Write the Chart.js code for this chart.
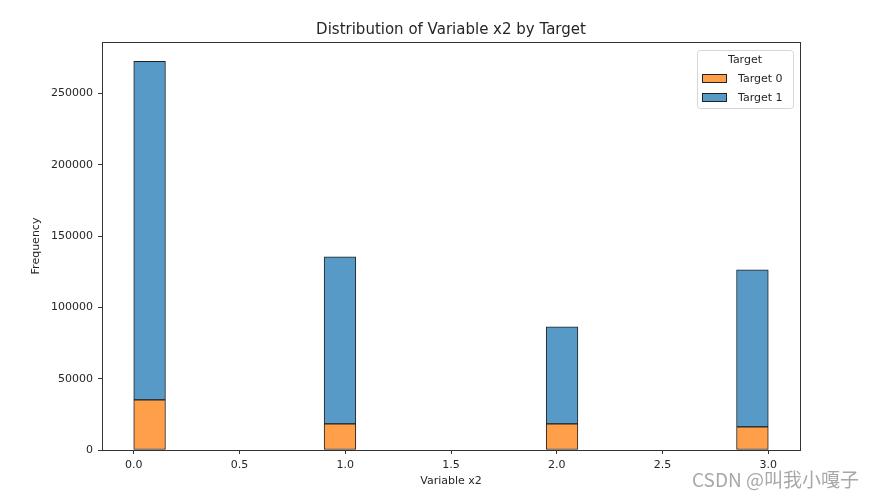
<!DOCTYPE html>
<html>
<head>
<meta charset="utf-8">
<script src="https://cdn.jsdelivr.net/npm/chart.js@4/dist/chart.umd.min.js"></script>
<style>
  html, body { margin: 0; padding: 0; background: #fff; }
  #wrap { position: relative; width: 877px; height: 497px; }
  #mark {
    position: absolute; left: 692px; top: 466px;
    font-family: "Noto Sans CJK SC", "DejaVu Sans", sans-serif;
    font-size: 19px; line-height: 26px; color: #a8a8a8; white-space: nowrap;
  }
</style>
</head>
<body>
<div id="wrap">
  <canvas id="chart" width="877" height="497"></canvas>
  <div id="mark">CSDN @叫我小嘎子</div>
</div>
<script>
// histogram bins (width 0.15), centers of the 20 bins from 0 to 3
const binCenters = [0.075, 0.225, 0.375, 0.525, 0.675, 0.825, 0.975, 1.125, 1.275, 1.425,
                    1.575, 1.725, 1.875, 2.025, 2.175, 2.325, 2.475, 2.625, 2.775, 2.925];
// counts per bin, empty bins are null
const target0Counts = [35100, null, null, null, null, null, 18300, null, null, null,
                       null, null, null, 18300, null, null, null, null, null, 16200];
const target1Counts = [237400, null, null, null, null, null, 117200, null, null, null,
                       null, null, null, 68100, null, null, null, null, null, 110200];
const seriesNames = ["Target 0", "Target 1"];
const xTickValues = [0, 0.5, 1.0, 1.5, 2.0, 2.5, 3.0];
const yTickValues = [0, 50000, 100000, 150000, 200000, 250000];
const chartTitle = "Distribution of Variable x2 by Target";

const orange = "#ff9f4a";
const blue = "#5799c7";
const edge = "#222222";
const font = "DejaVu Sans";

function points(counts) {
  return binCenters.map((x, i) => ({ x: x, y: counts[i] }));
}

// four-sided frame like matplotlib spines, plus title centred over the axes
const framePlugin = {
  id: "frame",
  afterDraw(chart) {
    const a = chart.chartArea, ctx = chart.ctx;
    ctx.save();
    ctx.strokeStyle = "#333";
    ctx.lineWidth = 1;
    ctx.strokeRect(a.left + 0.5, a.top + 0.5, a.right - a.left, a.bottom - a.top);
    ctx.fillStyle = "#262626";
    ctx.font = "15px '" + font + "'";
    ctx.textAlign = "center";
    ctx.textBaseline = "middle";
    ctx.fillText(chartTitle, (a.left + a.right) / 2, a.top - 12);
    ctx.restore();
  }
};

// legend box drawn inside the plot, top right
const legendPlugin = {
  id: "boxLegend",
  afterDraw(chart) {
    const a = chart.chartArea, ctx = chart.ctx;
    const w = 96, h = 58;
    const x = a.right - 7 - w, y = a.top + 8;
    ctx.save();
    ctx.fillStyle = "rgba(255,255,255,0.8)";
    ctx.strokeStyle = "#d6d6d6";
    ctx.lineWidth = 1;
    ctx.beginPath();
    ctx.roundRect(x + 0.5, y + 0.5, w, h, 3);
    ctx.fill();
    ctx.stroke();
    ctx.fillStyle = "#262626";
    ctx.font = "11px '" + font + "'";
    ctx.textBaseline = "middle";
    ctx.textAlign = "center";
    ctx.fillText("Target", x + w / 2, y + 10);
    const colors = [orange, blue];
    ctx.textAlign = "left";
    seriesNames.forEach((name, i) => {
      const ry = y + 24 + i * 19;
      ctx.fillStyle = colors[i];
      ctx.fillRect(x + 5.5, ry + 0.5, 24, 8);
      ctx.strokeStyle = edge;
      ctx.strokeRect(x + 5.5, ry + 0.5, 24, 8);
      ctx.fillStyle = "#262626";
      ctx.fillText(name, x + 41, ry + 5);
    });
    ctx.restore();
  }
};

new Chart(document.getElementById("chart"), {
  type: "bar",
  data: {
    datasets: [
      { label: seriesNames[0], data: points(target0Counts), backgroundColor: orange,
        borderColor: edge, borderWidth: 1, borderSkipped: false },
      { label: seriesNames[1], data: points(target1Counts), backgroundColor: blue,
        borderColor: edge, borderWidth: 1, borderSkipped: false }
    ]
  },
  options: {
    responsive: false,
    animation: false,
    barPercentage: 1,
    categoryPercentage: 1,
    layout: { padding: { left: 0, right: 77, top: 42, bottom: 9 } },
    plugins: {
      legend: { display: false },
      tooltip: { enabled: false },
      title: { display: false }
    },
    scales: {
      x: {
        type: "linear",
        stacked: true,
        offset: false,
        min: -0.15,
        max: 3.15,
        afterBuildTicks(scale) { scale.ticks = xTickValues.map(v => ({ value: v })); },
        afterFit(scale) { scale.height = 38; },
        ticks: {
          color: "#262626",
          font: { family: font, size: 11 },
          padding: 5,
          maxRotation: 0,
          callback: v => v.toFixed(1)
        },
        grid: { offset: false, drawOnChartArea: false, drawTicks: true, tickLength: 4, color: "#333" },
        border: { display: true, color: "#333" },
        title: {
          display: true, text: "Variable x2", color: "#262626",
          font: { family: font, size: 11 }, padding: { top: 0, bottom: 0 }
        }
      },
      y: {
        stacked: true,
        min: 0,
        max: 286125,
        afterBuildTicks(scale) { scale.ticks = yTickValues.map(v => ({ value: v })); },
        afterFit(scale) { scale.width = 102; },
        ticks: {
          color: "#262626",
          font: { family: font, size: 11 },
          padding: 5,
          callback: v => String(v)
        },
        grid: { drawOnChartArea: false, drawTicks: true, tickLength: 4, color: "#333" },
        border: { display: true, color: "#333" },
        title: {
          display: true, text: "Frequency", color: "#262626",
          font: { family: font, size: 11 }, padding: { top: 30, bottom: 0 }
        }
      }
    }
  },
  plugins: [framePlugin, legendPlugin]
});
</script>
</body>
</html>
